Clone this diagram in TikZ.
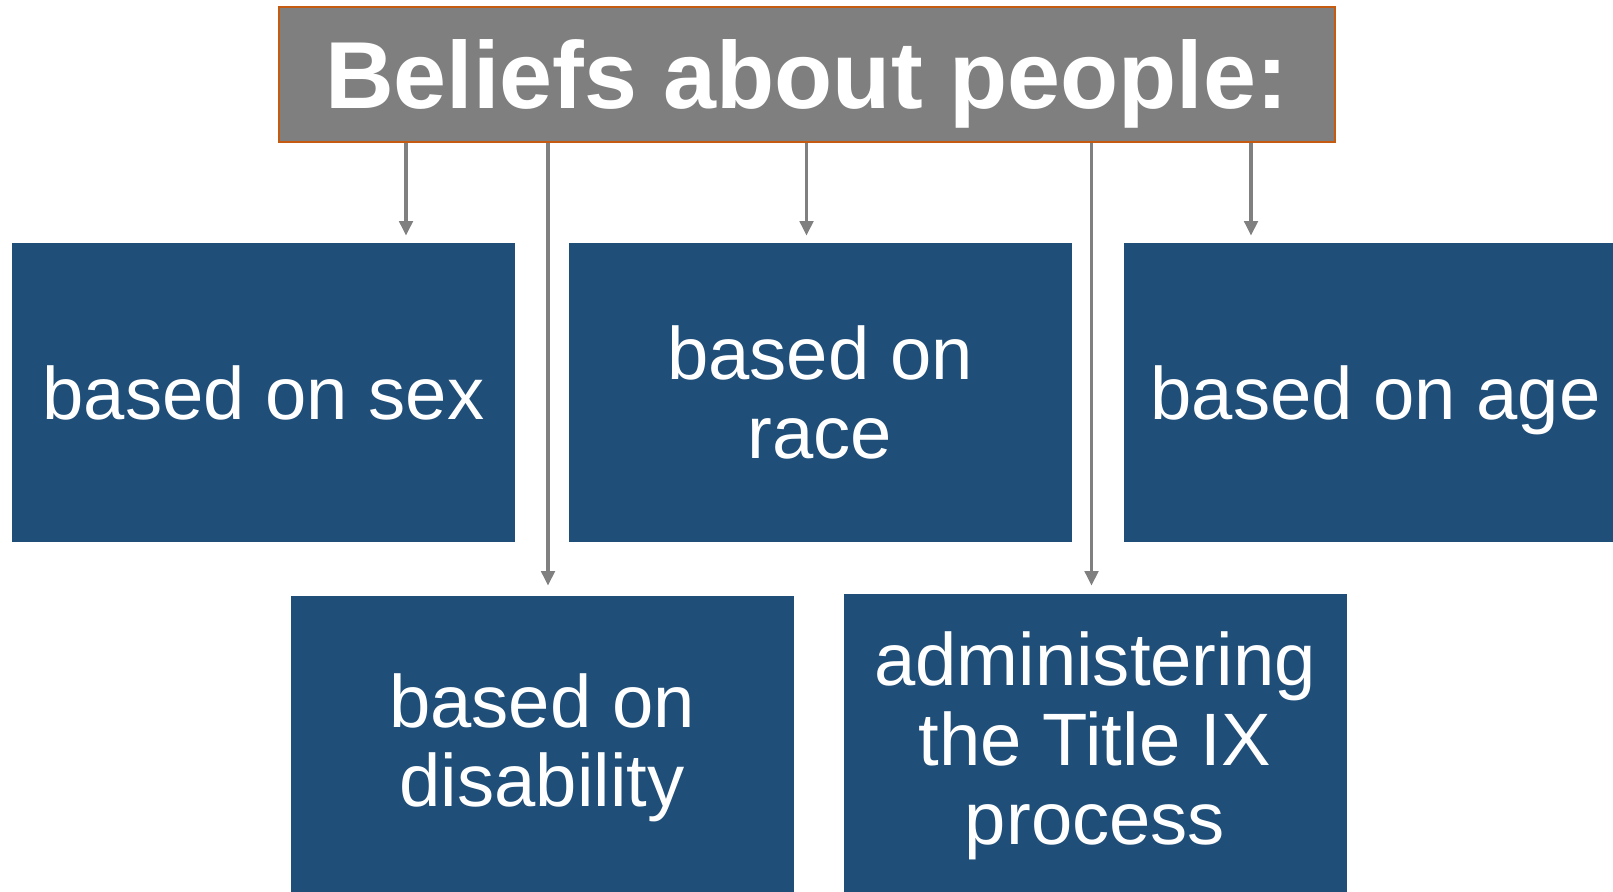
\documentclass[tikz,border=0pt]{standalone}
\usepackage{fontspec}
\setmainfont{Liberation Sans}
\usetikzlibrary{arrows.meta}

\definecolor{boxblue}{HTML}{1F4E79}
\definecolor{hdrgray}{HTML}{7F7F7F}
\definecolor{hdredge}{HTML}{C55A11}
\definecolor{linkgray}{HTML}{808080}

\begin{document}
\begin{tikzpicture}[x=0.75pt,y=-0.75pt,
    header/.style={fill=hdrgray, draw=hdredge, line width=1.5pt,
        minimum width=792pt, minimum height=101pt, inner sep=0pt,
        text=white, text depth=0pt, font=\fontsize{71.4}{75}\selectfont\bfseries},
    belief/.style={fill=boxblue, minimum width=377.25pt, minimum height=224.25pt,
        inner sep=0pt, text=white, align=center,
        font=\fontsize{55.7}{59.5}\selectfont},
    link/.style={draw=linkgray, line width=2.7pt,
        -{Triangle[width=10pt,length=11pt]}}]
    \def\W{1613}
    \def\H{892}
    \def\rowA{392.5}
    \useasboundingbox (0,0) rectangle (\W,\H);
    \clip (0,0) rectangle (\W,\H);

    % Header
    \node[header] (hdr) at (806.5,74.5) {Beliefs about people:};

    % Belief boxes
    \node[belief] (sex)   at (263.5,\rowA)  {based on sex};
    \node[belief] (race)  at (820,\rowA)    {based on\\race};
    \node[belief, text depth=0pt] (age) at (1375.5,\rowA) {based on age};
    \node[belief, minimum height=228pt] (disab) at (542,748) {based on\\disability};
    \node[belief, minimum height=228pt] (title) at (1095,746) {administering\\the Title IX\\process};

    % Arrow ends, just above each box
    \coordinate (tsex)   at ([shift={(142.5,-7)}]sex.north);
    \coordinate (trace)  at ([shift={(-13.5,-7)}]race.north);
    \coordinate (tage)   at ([shift={(-124.5,-7)}]age.north);
    \coordinate (tdisab) at ([shift={(6,-10)}]disab.north);
    \coordinate (ttitle) at ([shift={(-3.5,-8)}]title.north);

    \foreach \t in {tsex,trace,tage,tdisab,ttitle} {
        \draw[link] (hdr.south -| \t) -- (\t);
    }

\end{tikzpicture}
\end{document}
